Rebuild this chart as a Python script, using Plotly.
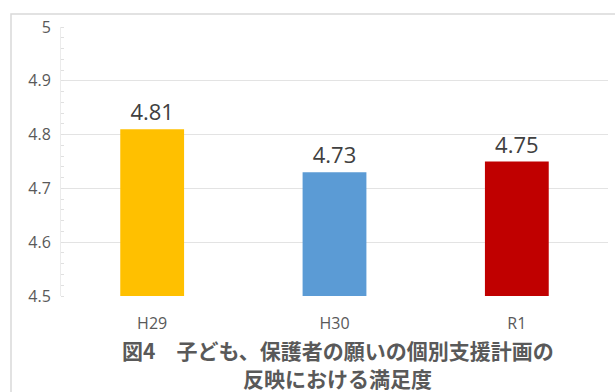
import plotly.graph_objects as go

categories = ["H29", "H30", "R1"]
values = [4.81, 4.73, 4.75]
colors = ["#FFC000", "#5B9BD5", "#C00000"]
title_lines = ["図4　子ども、保護者の願いの個別支援計画の", "反映における満足度"]
y_ticks = [4.5, 4.6, 4.7, 4.8, 4.9, 5]

W, H = 615, 392
ml, mr, mt, mb = 61, 7, 27, 96
pw = W - ml - mr
ph = H - mt - mb

fig = go.Figure(go.Bar(
    x=categories, y=values, marker=dict(color=colors, line=dict(width=0)),
    text=[f"{v:.2f}" for v in values], textposition="outside",
    textfont=dict(size=22, color="#404040", family="Open Sans, Liberation Sans, sans-serif"),
    cliponaxis=False,
))


def py(pix):
    return 1 - (pix - mt) / ph


annotations = []
for line, ypix in zip(title_lines, [350, 378]):
    annotations.append(dict(text=f"<b>{line}</b>", xref="paper", yref="paper",
                            x=(338 - ml) / pw, y=py(ypix), xanchor="center", yanchor="middle",
                            showarrow=False, borderpad=0,
                            font=dict(size=21, color="#595959",
                                      family="Noto Sans CJK JP, sans-serif")))

fig.update_layout(
    width=W, height=H, margin=dict(l=ml, r=mr, t=mt, b=mb),
    paper_bgcolor="white", plot_bgcolor="white",
    bargap=0.65, showlegend=False,
    font=dict(family="Open Sans, Liberation Sans, sans-serif", color="#595959"),
    xaxis=dict(showgrid=False, showline=False, ticks="", tickfont=dict(size=16, color="#595959"),
               ticklabelstandoff=16),
    yaxis=dict(range=[4.5, 5], tickvals=y_ticks, ticktext=[str(t) for t in y_ticks],
               showgrid=True, gridcolor="#E3E3E3", gridwidth=1,
               showline=True, linecolor="#EBEBEB", linewidth=1,
               ticks="", tickfont=dict(size=16, color="#595959"), ticklabelstandoff=6,
               minor=dict(dtick=0.02, ticks="inside", ticklen=3, tickcolor="#E0E0E0", showgrid=False),
               zeroline=False),
    shapes=[dict(type="rect", xref="paper", yref="paper",
                 x0=(11 - ml) / pw, x1=(W + 5 - ml) / pw,
                 y0=-(H - ph) / ph, y1=1 + (mt - 14) / ph,
                 line=dict(color="#D9D9D9", width=1.5), fillcolor="rgba(0,0,0,0)", layer="below")],
    annotations=annotations,
)

fig.write_html("out.html")
